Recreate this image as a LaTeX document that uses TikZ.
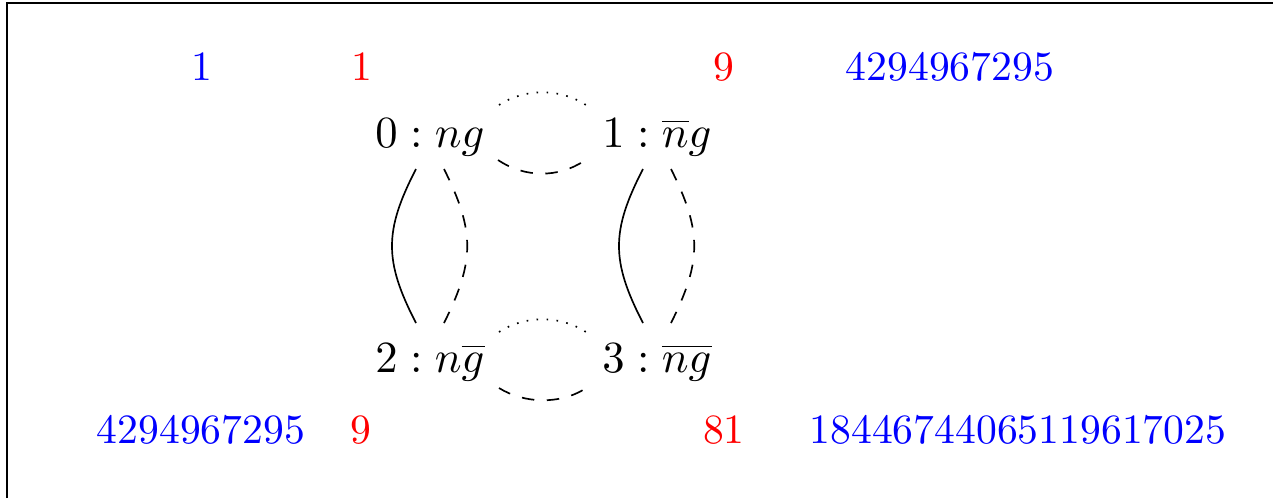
\documentclass[tikz,border=0pt]{standalone}
\begin{document}
\begin{tikzpicture}[x=0.24pt,y=-0.24pt,
  st/.style={inner sep=0pt, anchor=base, scale=1.07},
  num/.style={inner sep=0pt, anchor=base},
  conn/.style={line width=0.4pt}]
\useasboundingbox (0,0) rectangle (1273,498);
\draw[line width=0.5pt] (7,498) -- (7,3) -- (1273,3);
% state nodes
\node[st] (n0) at (430,147) {$0 : ng$};
\node[st] (n1) at (657,147) {$1 : \overline{n}g$};
\node[st] (n2) at (430,372) {$2 : n\overline{g}$};
\node[st] (n3) at (657,372) {$3 : \overline{ng}$};
% numbers
\node[num,text=blue] (b1) at (202,80) {1};
\node[num,text=red] (r1) at (362,80) {1};
\node[num,text=red] (r2) at (724,80) {9};
\node[num,text=blue] (b2) at (950,80) {4294967295};
\node[num,text=blue] (b3) at (201,443) {4294967295};
\node[num,text=red] (r3) at (361,443) {9};
\node[num,text=red] (r4) at (724,443) {81};
\node[num,text=blue] (b4) at (1018,443) {18446744065119617025};
% horizontal connectors
\draw[conn,dotted] ([shift={(69,-42)}]n0.base) .. controls +(26,-17) and +(-26,-17) .. ([shift={(-71,-42)}]n1.base);
\draw[conn,dashed] ([shift={(68,13)}]n0.base) .. controls +(27,18) and +(-26,17) .. ([shift={(-73,14)}]n1.base);
\draw[conn,dotted] ([shift={(69,-40)}]n2.base) .. controls +(26,-17) and +(-26,-17) .. ([shift={(-71,-40)}]n3.base);
\draw[conn,dashed] ([shift={(69,16)}]n2.base) .. controls +(26,16) and +(-24,14) .. ([shift={(-74,18)}]n3.base);
% vertical connectors
\draw[conn] ([shift={(-14,22)}]n0.base) .. controls +(-32,62) and +(-32,-62) .. ([shift={(-14,-49)}]n2.base);
\draw[conn,dashed] ([shift={(14,22)}]n0.base) .. controls +(31,62) and +(31,-62) .. ([shift={(14,-49)}]n2.base);
\draw[conn] ([shift={(-14,22)}]n1.base) .. controls +(-32,62) and +(-32,-62) .. ([shift={(-14,-49)}]n3.base);
\draw[conn,dashed] ([shift={(14,22)}]n1.base) .. controls +(31,62) and +(31,-62) .. ([shift={(14,-49)}]n3.base);
\end{tikzpicture}
\end{document}
